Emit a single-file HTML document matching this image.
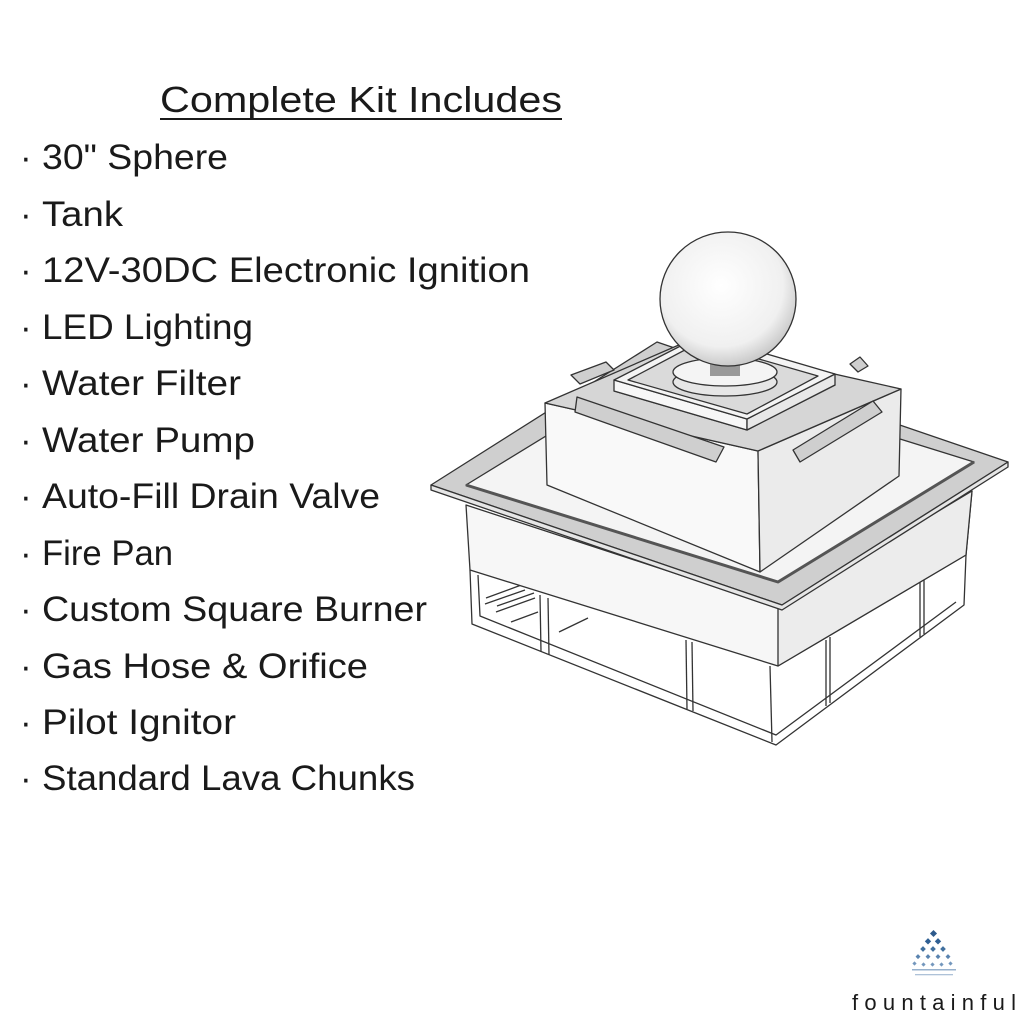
<!DOCTYPE html>
<html><head><meta charset="utf-8"><style>
html,body{margin:0;padding:0;background:#fff}
svg{display:block}
text{font-family:"Liberation Sans",sans-serif;fill:#1a1a1a}
</style></head><body>
<svg width="1024" height="1024" viewBox="0 0 1024 1024" xmlns="http://www.w3.org/2000/svg">
<rect width="1024" height="1024" fill="#fff"/>
<g font-size="36">
<text x="160" y="112" textLength="402" lengthAdjust="spacingAndGlyphs">Complete Kit Includes</text>
<rect x="160" y="118" width="402" height="2" fill="#1a1a1a"/>
</g>
<g font-size="35">
<text x="20" y="169">·</text><text x="42" y="169" textLength="186" lengthAdjust="spacingAndGlyphs">30" Sphere</text>
<text x="20" y="226">·</text><text x="42" y="226" textLength="81" lengthAdjust="spacingAndGlyphs">Tank</text>
<text x="20" y="282">·</text><text x="42" y="282" textLength="488" lengthAdjust="spacingAndGlyphs">12V-30DC Electronic Ignition</text>
<text x="20" y="339">·</text><text x="42" y="339" textLength="211" lengthAdjust="spacingAndGlyphs">LED Lighting</text>
<text x="20" y="395">·</text><text x="42" y="395" textLength="199" lengthAdjust="spacingAndGlyphs">Water Filter</text>
<text x="20" y="452">·</text><text x="42" y="452" textLength="213" lengthAdjust="spacingAndGlyphs">Water Pump</text>
<text x="20" y="508">·</text><text x="42" y="508" textLength="338" lengthAdjust="spacingAndGlyphs">Auto-Fill Drain Valve</text>
<text x="20" y="565">·</text><text x="42" y="565" textLength="131" lengthAdjust="spacingAndGlyphs">Fire Pan</text>
<text x="20" y="621">·</text><text x="42" y="621" textLength="385" lengthAdjust="spacingAndGlyphs">Custom Square Burner</text>
<text x="20" y="678">·</text><text x="42" y="678" textLength="326" lengthAdjust="spacingAndGlyphs">Gas Hose &amp; Orifice</text>
<text x="20" y="734">·</text><text x="42" y="734" textLength="194" lengthAdjust="spacingAndGlyphs">Pilot Ignitor</text>
<text x="20" y="790">·</text><text x="42" y="790" textLength="373" lengthAdjust="spacingAndGlyphs">Standard Lava Chunks</text>
</g>

<g stroke="#333" stroke-width="1.3" stroke-linejoin="round" fill="none">
<!-- frame below tank -->
<polyline points="470,570 472,624 776,745 964,605 966,555"/>
<polyline points="478,575 480,616 776,735 956,602"/>
<line x1="540" y1="595" x2="541" y2="652"/>
<line x1="548" y1="598" x2="549" y2="655"/>
<line x1="686" y1="640" x2="687" y2="709"/>
<line x1="692" y1="642" x2="693" y2="711"/>
<line x1="826" y1="640" x2="826" y2="706"/>
<line x1="830" y1="637" x2="830" y2="703"/>
<line x1="920" y1="580" x2="920" y2="637"/>
<line x1="924" y1="577" x2="924" y2="634"/>
<line x1="770" y1="666" x2="772" y2="742"/>
<!-- pipes -->
<line x1="485" y1="604" x2="525" y2="590"/><line x1="486" y1="598" x2="524" y2="584"/>
<line x1="496" y1="612" x2="535" y2="598"/><line x1="497" y1="606" x2="534" y2="593"/>
<line x1="511" y1="622" x2="538" y2="612"/>
<line x1="559" y1="632" x2="588" y2="618"/>
<!-- tank walls -->
<polygon points="466,505 470,570 778,666 966,555 972,491 778,607" fill="#f7f7f7"/>
<polygon points="778,607 778,666 966,555 972,491" fill="#ececec"/>
<!-- rim plate -->
<polygon points="431,485 782,605 1008,462 657,342 431,485" fill="#cfcfcf"/>
<polygon points="431,485 431,490 782,610 1008,467 1008,462 782,605" fill="#e6e6e6"/>
<polygon points="466,485 778,582 974,462 662,365" fill="#f4f4f4"/>
<polyline points="466,485 778,582 974,462" stroke-width="3" stroke="#555"/>
<!-- upper box -->
<polygon points="545,403 547,485 760,572 758,451" fill="#f9f9f9"/>
<polygon points="758,451 760,572 899,476 901,389" fill="#ebebeb"/>
<polygon points="545,403 758,451 901,389 688,341" fill="#d6d6d6"/>
<!-- inner square -->
<polygon points="614,391 747,430 835,385 702,346" fill="#ececec"/>
<polygon points="614,391 614,380 747,419 747,430" fill="#f7f7f7"/>
<polygon points="747,419 835,374 835,385 747,430" fill="#e8e8e8"/>
<polygon points="614,380 747,419 835,374 702,335" fill="#f4f4f4"/>
<polygon points="628,380 747,414 818,376 700,342" fill="#dadada"/>
<!-- spouts -->
<path d="M577,397 L724,447 L716,462 L575,412 Z" fill="#cfcfcf"/>
<path d="M793,450 L873,401 L882,412 L800,462 Z" fill="#cfcfcf"/>
<path d="M571,375 L606,362 L614,370 L580,384 Z" fill="#cfcfcf"/>
<path d="M850,364 L860,357 L868,366 L858,372 Z" fill="#cfcfcf"/>
<!-- collar -->
<ellipse cx="725" cy="382" rx="52" ry="14" fill="#e6e6e6"/>
<ellipse cx="725" cy="372" rx="52" ry="14" fill="#f4f4f4"/>
<rect x="710" y="362" width="30" height="14" fill="#999" stroke="none"/>
<!-- sphere -->
<defs><radialGradient id="g" cx="0.45" cy="0.4" r="0.65"><stop offset="0" stop-color="#fff"/><stop offset="0.7" stop-color="#f0f0f0"/><stop offset="1" stop-color="#bdbdbd"/></radialGradient></defs>
<ellipse cx="728" cy="299" rx="68" ry="67" fill="url(#g)"/>
</g>

<!-- logo -->
<g fill="#2d5a8c">
<rect x="931" y="931" width="5" height="5" transform="rotate(45 933.5 933.5)"/>
<rect x="926" y="939" width="4.5" height="4.5" transform="rotate(45 928 941)" fill="#2f5f93"/>
<rect x="936" y="939" width="4.5" height="4.5" transform="rotate(45 938 941)" fill="#2f5f93"/>
<rect x="921" y="947" width="4" height="4" transform="rotate(45 923 949)" fill="#41709f"/>
<rect x="931" y="947" width="4" height="4" transform="rotate(45 933 949)" fill="#41709f"/>
<rect x="941" y="947" width="4" height="4" transform="rotate(45 943 949)" fill="#41709f"/>
<rect x="916" y="955" width="3.5" height="3.5" transform="rotate(45 918 957)" fill="#5a84b0"/>
<rect x="926" y="955" width="3.5" height="3.5" transform="rotate(45 928 957)" fill="#5a84b0"/>
<rect x="936" y="955" width="3.5" height="3.5" transform="rotate(45 938 957)" fill="#5a84b0"/>
<rect x="946" y="955" width="3.5" height="3.5" transform="rotate(45 948 957)" fill="#5a84b0"/>
<rect x="913" y="962" width="3" height="3" transform="rotate(45 914.5 963.5)" fill="#7497bd"/>
<rect x="922" y="963" width="3" height="3" transform="rotate(45 923.5 964.5)" fill="#7497bd"/>
<rect x="931" y="963" width="3" height="3" transform="rotate(45 932.5 964.5)" fill="#7497bd"/>
<rect x="940" y="963" width="3" height="3" transform="rotate(45 941.5 964.5)" fill="#7497bd"/>
<rect x="949" y="962" width="3" height="3" transform="rotate(45 950.5 963.5)" fill="#7497bd"/>
<rect x="912" y="969" width="44" height="1.5" fill="#97b1cd"/>
<rect x="915" y="974" width="38" height="1.3" fill="#aec2d8"/>
</g>
<text x="852" y="1010" font-size="22" textLength="164" lengthAdjust="spacing" fill="#222">fountainful</text>
</svg>
</body></html>
